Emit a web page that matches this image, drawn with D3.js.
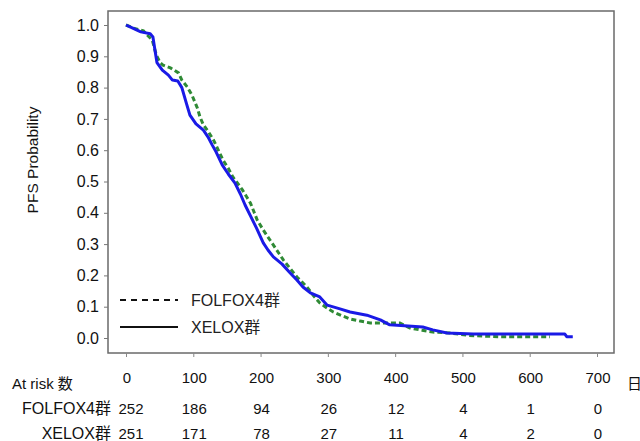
<!DOCTYPE html>
<html><head><meta charset="utf-8">
<script src="https://cdn.jsdelivr.net/npm/d3@7"></script>
<style>
html,body{margin:0;padding:0;background:#fff;}
svg{display:block;font-family:"Liberation Sans",Arial,"Noto Sans CJK JP",sans-serif;}
</style></head><body>
<svg id="c" width="640" height="441"></svg>
<script>
// ---- data ----
const xTicks = [0,100,200,300,400,500,600,700];
const yTicks = [0,0.1,0.2,0.3,0.4,0.5,0.6,0.7,0.8,0.9,1.0];
const seriesNames = ["FOLFOX4群","XELOX群"];
const atRiskFolfox = [252,186,94,26,12,4,1,0];
const atRiskXelox = [251,171,78,27,11,4,2,0];
// FOLFOX4 KM curve [day, survival]
const folfoxDays = [0,11,26,33,39,45,51,55,66,78,83,91,98,106,110,115,123,130,137,144,152,159,166,173,179,185,190,195,204,214,224,234,244,254,262,269,278,288,298,308,320,333,348,363,407,422,440,456,482,510,556,630];
const folfoxSurv = [1.0,0.99,0.981,0.965,0.952,0.904,0.879,0.872,0.863,0.847,0.824,0.802,0.776,0.735,0.706,0.681,0.657,0.633,0.601,0.569,0.542,0.514,0.494,0.473,0.452,0.431,0.404,0.377,0.345,0.313,0.281,0.249,0.222,0.195,0.178,0.163,0.137,0.112,0.097,0.083,0.072,0.061,0.054,0.048,0.048,0.032,0.025,0.019,0.016,0.008,0.004,0.004];
// XELOX KM curve [day, survival]
const xeloxDays = [0,10,22,36,40,43,46,54,63,69,77,83,90,95,104,115,122,128,134,143,152,162,170,177,185,194,204,211,219,232,244,254,263,274,288,299,318,333,358,378,392,441,456,477,516,652,655,664];
const xeloxSurv = [1.0,0.99,0.978,0.972,0.962,0.92,0.88,0.856,0.84,0.824,0.821,0.80,0.748,0.712,0.684,0.664,0.642,0.617,0.594,0.553,0.524,0.495,0.46,0.425,0.39,0.351,0.304,0.281,0.259,0.236,0.208,0.185,0.163,0.144,0.131,0.105,0.093,0.083,0.073,0.058,0.042,0.035,0.026,0.016,0.013,0.013,0.004,0.004];

// ---- layout ----
const svg = d3.select("#c");
const box = {l:108, t:11, r:614, b:353};
const x = d3.scaleLinear().domain([0,700]).range([126,597]);
const y = d3.scaleLinear().domain([0,1]).range([338,25]);

// box
svg.append("rect").attr("x",box.l).attr("y",box.t)
  .attr("width",box.r-box.l).attr("height",box.b-box.t)
  .attr("fill","#fff").attr("stroke","#6a6a6a").attr("stroke-width",1.5);

// y axis
const ya = svg.append("g").attr("transform",`translate(${box.l},0)`)
  .call(d3.axisLeft(y).tickValues(yTicks).tickSize(4).tickPadding(5).tickFormat(d3.format(".1f")));
ya.select(".domain").remove();
ya.selectAll("line").attr("stroke","#777");
ya.selectAll("text").attr("font-size",16).attr("fill","#111")
  .attr("font-family","'Liberation Sans',Arial,sans-serif");

// x axis ticks
const xa = svg.append("g").attr("transform",`translate(0,${box.b})`)
  .call(d3.axisBottom(x).tickValues(xTicks).tickSize(4).tickFormat(""));
xa.select(".domain").remove();
xa.selectAll("line").attr("stroke","#888");

// x labels
svg.append("g").selectAll("text").data(xTicks).join("text")
  .attr("x",d=>x(d)+1).attr("y",383).attr("text-anchor","middle")
  .attr("font-size",15).attr("fill","#111").text(d=>d);

// y label
svg.append("text").attr("transform","translate(38,160) rotate(-90)")
  .attr("text-anchor","middle").attr("font-size",15.5).attr("fill","#111")
  .text("PFS Probability");

// curves
const line = d3.line().x(d=>x(d[0])).y(d=>y(d[1]));
const fData = folfoxDays.map((d,i)=>[d,folfoxSurv[i]]);
const xData = xeloxDays.map((d,i)=>[d,xeloxSurv[i]]);
svg.append("path").attr("d",line(fData)).attr("fill","none")
  .attr("stroke","#2f8a35").attr("stroke-width",3).attr("stroke-dasharray","5,3");
svg.append("path").attr("d",line(xData)).attr("fill","none")
  .attr("stroke","#1a1ae6").attr("stroke-width",3).attr("stroke-linejoin","round");

// legend
svg.append("line").attr("x1",120).attr("x2",178).attr("y1",300).attr("y2",300)
  .attr("stroke","#111").attr("stroke-width",2).attr("stroke-dasharray","6,5");
svg.append("text").attr("x",191).attr("y",306).attr("font-size",16).attr("fill","#222").text(seriesNames[0]);
svg.append("line").attr("x1",120).attr("x2",178).attr("y1",327).attr("y2",327)
  .attr("stroke","#111").attr("stroke-width",2);
svg.append("text").attr("x",191).attr("y",333).attr("font-size",16).attr("fill","#222").text(seriesNames[1]);

// at risk table
svg.append("text").attr("x",12).attr("y",389).attr("font-size",15).attr("fill","#111").text("At risk 数");
svg.append("text").attr("x",627).attr("y",389).attr("font-size",15).attr("fill","#111").text("日");
svg.append("text").attr("x",111).attr("y",414).attr("text-anchor","end").attr("font-size",16).attr("fill","#111").text(seriesNames[0]);
svg.append("text").attr("x",111).attr("y",439).attr("text-anchor","end").attr("font-size",16).attr("fill","#111").text(seriesNames[1]);
svg.append("g").selectAll("text").data(atRiskFolfox).join("text")
  .attr("x",(d,i)=>x(xTicks[i])+(i===0?5:1)).attr("y",414).attr("text-anchor","middle")
  .attr("font-size",15).attr("fill","#111").text(d=>d);
svg.append("g").selectAll("text").data(atRiskXelox).join("text")
  .attr("x",(d,i)=>x(xTicks[i])+(i===0?5:1)).attr("y",439).attr("text-anchor","middle")
  .attr("font-size",15).attr("fill","#111").text(d=>d);
</script>
</body></html>
